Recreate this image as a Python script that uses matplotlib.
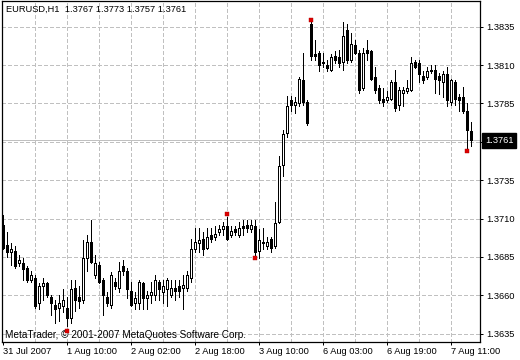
import matplotlib
matplotlib.use('Agg')
import matplotlib.pyplot as plt
import numpy as np

plt.rcParams['font.family'] = ['Liberation Sans', 'DejaVu Sans']
plt.rcParams['lines.scale_dashes'] = False

symbol = "EURUSD,H1"
copyright_text = "MetaTrader, \u00a9 2001-2007 MetaQuotes Software Corp."

opens = [1.3706, 1.3693, 1.3688, 1.3689, 1.3681, 1.3681, 1.3678, 1.3670, 1.3671, 1.3655,
         1.3666, 1.3668, 1.3659, 1.3654, 1.3652, 1.3653, 1.3652, 1.3645, 1.3665, 1.3659,
         1.3657, 1.3684, 1.3695, 1.3673, 1.3680, 1.3670, 1.3659, 1.3654, 1.3669, 1.3665,
         1.3679, 1.3676, 1.3663, 1.3655, 1.3655, 1.3668, 1.3658, 1.3660, 1.3660, 1.3669,
         1.3662, 1.3664, 1.3660, 1.3665, 1.3666, 1.3665, 1.3665, 1.3671, 1.3690, 1.3694,
         1.3697, 1.3691, 1.3699, 1.3698, 1.3701, 1.3703, 1.3705, 1.3699, 1.3703, 1.3699,
         1.3705, 1.3706, 1.3703, 1.3705, 1.3689, 1.3695, 1.3692, 1.3697, 1.3692, 1.3708,
         1.3745, 1.3766, 1.3787, 1.3784, 1.3785, 1.3800, 1.3786, 1.3837, 1.3817, 1.3818,
         1.3812, 1.3810, 1.3807, 1.3816, 1.3815, 1.3812, 1.3833, 1.3813, 1.3823, 1.3818,
         1.3795, 1.3820, 1.3819, 1.3802, 1.3795, 1.3788, 1.3787, 1.3788, 1.3799, 1.3784,
         1.3792, 1.3793, 1.3794, 1.3812, 1.3811, 1.3803, 1.3802, 1.3807, 1.3807, 1.3803,
         1.3799, 1.3804, 1.3786, 1.3799, 1.3789, 1.3789, 1.3780, 1.3767]
highs = [1.3712, 1.3701, 1.3694, 1.3692, 1.3686, 1.3684, 1.3679, 1.3676, 1.3673, 1.3668,
         1.3671, 1.3669, 1.3660, 1.3657, 1.3660, 1.3664, 1.3659, 1.3670, 1.3670, 1.3666,
         1.3696, 1.3699, 1.3709, 1.3686, 1.3682, 1.3671, 1.3662, 1.3675, 1.3671, 1.3682,
         1.3683, 1.3678, 1.3669, 1.3662, 1.3670, 1.3669, 1.3663, 1.3669, 1.3673, 1.3670,
         1.3670, 1.3671, 1.3670, 1.3670, 1.3670, 1.3673, 1.3676, 1.3697, 1.3704, 1.3704,
         1.3701, 1.3704, 1.3704, 1.3705, 1.3706, 1.3708, 1.3711, 1.3705, 1.3705, 1.3708,
         1.3709, 1.3709, 1.3709, 1.3709, 1.3703, 1.3704, 1.3698, 1.3698, 1.3721, 1.3751,
         1.3768, 1.3790, 1.3790, 1.3789, 1.3802, 1.3818, 1.3787, 1.3838, 1.3826, 1.3819,
         1.3818, 1.3813, 1.3817, 1.3819, 1.3820, 1.3838, 1.3837, 1.3831, 1.3826, 1.3820,
         1.3821, 1.3826, 1.3820, 1.3809, 1.3797, 1.3795, 1.3793, 1.3800, 1.3807, 1.3796,
         1.3796, 1.3800, 1.3815, 1.3813, 1.3813, 1.3806, 1.3809, 1.3810, 1.3810, 1.3805,
         1.3806, 1.3809, 1.3801, 1.3800, 1.3791, 1.3796, 1.3785, 1.3773]
lows = [1.3690, 1.3685, 1.3680, 1.3678, 1.3679, 1.3670, 1.3669, 1.3669, 1.3652, 1.3651,
        1.3657, 1.3659, 1.3647, 1.3642, 1.3643, 1.3649, 1.3640, 1.3642, 1.3650, 1.3652,
        1.3655, 1.3676, 1.3681, 1.3671, 1.3668, 1.3647, 1.3653, 1.3652, 1.3664, 1.3662,
        1.3673, 1.3658, 1.3653, 1.3651, 1.3651, 1.3651, 1.3651, 1.3655, 1.3657, 1.3657,
        1.3655, 1.3653, 1.3659, 1.3657, 1.3659, 1.3651, 1.3663, 1.3669, 1.3688, 1.3688,
        1.3686, 1.3690, 1.3695, 1.3696, 1.3699, 1.3699, 1.3696, 1.3698, 1.3699, 1.3698,
        1.3699, 1.3701, 1.3701, 1.3686, 1.3684, 1.3690, 1.3690, 1.3688, 1.3691, 1.3707,
        1.3738, 1.3763, 1.3780, 1.3779, 1.3783, 1.3784, 1.3771, 1.3813, 1.3813, 1.3806,
        1.3809, 1.3806, 1.3806, 1.3811, 1.3809, 1.3807, 1.3811, 1.3812, 1.3817, 1.3792,
        1.3794, 1.3813, 1.3800, 1.3792, 1.3785, 1.3783, 1.3786, 1.3787, 1.3780, 1.3781,
        1.3783, 1.3792, 1.3793, 1.3808, 1.3799, 1.3798, 1.3801, 1.3805, 1.3792, 1.3791,
        1.3789, 1.3783, 1.3784, 1.3784, 1.3780, 1.3779, 1.3756, 1.3757]
closes = [1.3691, 1.3688, 1.3690, 1.3679, 1.3683, 1.3677, 1.3670, 1.3673, 1.3653, 1.3666,
          1.3668, 1.3660, 1.3655, 1.3651, 1.3655, 1.3657, 1.3645, 1.3664, 1.3657, 1.3656,
          1.3684, 1.3695, 1.3682, 1.3681, 1.3669, 1.3660, 1.3655, 1.3673, 1.3666, 1.3676,
          1.3676, 1.3664, 1.3654, 1.3658, 1.3669, 1.3658, 1.3660, 1.3662, 1.3670, 1.3664,
          1.3666, 1.3670, 1.3665, 1.3663, 1.3663, 1.3667, 1.3673, 1.3690, 1.3695, 1.3696,
          1.3690, 1.3698, 1.3697, 1.3700, 1.3703, 1.3705, 1.3697, 1.3702, 1.3701, 1.3704,
          1.3704, 1.3704, 1.3706, 1.3688, 1.3696, 1.3694, 1.3695, 1.3691, 1.3707, 1.3744,
          1.3765, 1.3783, 1.3784, 1.3786, 1.3801, 1.3786, 1.3772, 1.3816, 1.3816, 1.3810,
          1.3811, 1.3808, 1.3815, 1.3813, 1.3811, 1.3829, 1.3813, 1.3824, 1.3818, 1.3794,
          1.3818, 1.3818, 1.3801, 1.3794, 1.3787, 1.3786, 1.3789, 1.3799, 1.3782, 1.3794,
          1.3794, 1.3795, 1.3811, 1.3809, 1.3804, 1.3800, 1.3806, 1.3806, 1.3801, 1.3800,
          1.3804, 1.3787, 1.3800, 1.3788, 1.3787, 1.3780, 1.3768, 1.3761]

marker_bars = [16, 56, 63, 77, 116]
marker_prices = [1.3637, 1.3713, 1.3684, 1.3839, 1.3754]

time_tick_bars = [0, 16, 32, 48, 64, 80, 96, 112]
time_tick_labels = ["31 Jul 2007", "1 Aug 10:00", "2 Aug 02:00", "2 Aug 18:00",
                    "3 Aug 10:00", "6 Aug 03:00", "6 Aug 19:00", "7 Aug 11:00"]
price_levels = [1.3635, 1.3660, 1.3685, 1.3710, 1.3735, 1.3760, 1.3785, 1.3810, 1.3835]
price_labels = ["1.3635", "1.3660", "1.3685", "1.3710", "1.3735", "", "1.3785", "1.3810", "1.3835"]
vgrid_bars = [8, 16, 24, 32, 40, 48, 56, 64, 72, 80, 88, 96, 104, 112]

o = np.array(opens); h = np.array(highs); l = np.array(lows); c = np.array(closes)
x = np.arange(len(o))

fig = plt.figure(figsize=(5.2, 3.6), dpi=100)
fig.patch.set_facecolor('white')
ax = fig.add_axes([2 / 520, 18 / 360, 478 / 520, 341 / 360])
ax.set_xlim(-0.25, 119.25)
ax.set_ylim(1.36296, 1.38517)

grid_kw = dict(color='#c0c0c0', lw=0.72, dashes=(2.2, 1.5), zorder=0, antialiased=False)
for p in price_levels:
    ax.axhline(p, **grid_kw)
for b in vgrid_bars:
    ax.axvline(b, **grid_kw)

ax.axhline(closes[-1], color='#c0c0c0', lw=0.72, zorder=1, antialiased=False)

ax.vlines(x, l, h, color='black', lw=0.72, zorder=2, antialiased=False)
bottoms = np.minimum(o, c)
heights = np.maximum(np.abs(c - o), 0.00001)
fills = ['white' if cc >= oo else 'black' for oo, cc in zip(o, c)]
ax.bar(x, heights, bottom=bottoms, width=0.55, color=fills, edgecolor='black',
       linewidth=0.72, zorder=3, antialiased=False)

ax.scatter(marker_bars, marker_prices, marker='s', s=5, color='#dd0000',
           edgecolors='#aa0000', linewidths=0.3, zorder=6)

for s in ax.spines.values():
    s.set_color('black')
    s.set_linewidth(0.9)

ax.set_xticks(time_tick_bars)
ax.set_xticklabels(time_tick_labels, ha='left', fontsize=6.7)
ax.tick_params(axis='x', direction='out', length=2.2, width=0.72, pad=1.5, colors='black')

ax.yaxis.tick_right()
ax.set_yticks(price_levels)
ax.set_yticklabels(price_labels, fontsize=6.7)
ax.tick_params(axis='y', direction='out', length=2.2, width=0.72, pad=2.6, colors='black')

ax.text(1.010, closes[-1], f"{closes[-1]:.4f}", transform=ax.get_yaxis_transform(),
        color='white', fontsize=6.7, va='center', ha='left',
        bbox=dict(facecolor='black', edgecolor='black', boxstyle='square,pad=0.3'),
        clip_on=False, zorder=10)

title = f"{symbol}  {opens[-1]:.4f} {highs[-1]:.4f} {lows[-1]:.4f} {closes[-1]:.4f}"
ax.text(0.0084, 0.988, title, transform=ax.transAxes, fontsize=6.7, va='top', ha='left')
ax.text(0.0063, 0.012, copyright_text, transform=ax.transAxes, fontsize=7.2,
        va='baseline', ha='left', zorder=5)

fig.savefig('out.png', dpi=100, facecolor='white')
